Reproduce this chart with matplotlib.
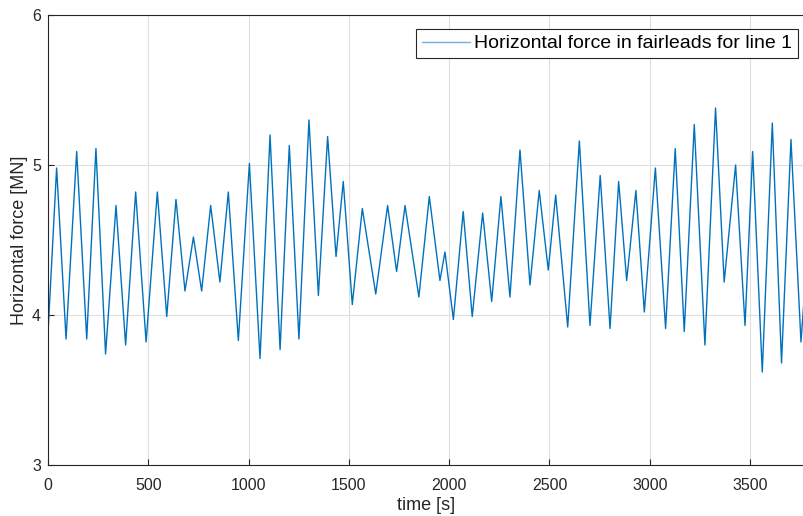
import numpy as np
import matplotlib.pyplot as plt

plt.rcParams['font.family'] = ['Liberation Sans', 'DejaVu Sans']

# peaks / troughs (time [s], force [MN])
time_s = [0, 43, 90, 143, 193, 239, 287, 339, 387, 437, 489, 545, 592, 638,
          683, 725, 766, 811, 857, 899, 949, 1004, 1057, 1107, 1157, 1203,
          1251, 1301, 1348, 1394, 1436, 1472, 1517, 1567, 1634, 1693, 1738,
          1780, 1849, 1901, 1954, 1979, 2021, 2070, 2115, 2167, 2212, 2258,
          2303, 2353, 2403, 2449, 2494, 2531, 2591, 2649, 2702, 2753, 2802,
          2845, 2885, 2931, 2973, 3028, 3079, 3127, 3172, 3222, 3275, 3328,
          3371, 3428, 3475, 3513, 3561, 3611, 3657, 3704, 3754, 3769]
force_mn = [3.88, 4.98, 3.84, 5.09, 3.84, 5.11, 3.74, 4.73, 3.80, 4.82, 3.82,
            4.82, 3.99, 4.77, 4.16, 4.52, 4.16, 4.73, 4.22, 4.82, 3.83, 5.01,
            3.71, 5.20, 3.77, 5.13, 3.84, 5.30, 4.13, 5.19, 4.39, 4.89, 4.07,
            4.71, 4.14, 4.73, 4.29, 4.73, 4.12, 4.79, 4.23, 4.42, 3.97, 4.69,
            3.99, 4.68, 4.09, 4.79, 4.12, 5.10, 4.20, 4.83, 4.30, 4.80, 3.92,
            5.16, 3.93, 4.93, 3.91, 4.89, 4.23, 4.83, 4.02, 4.98, 3.91, 5.11,
            3.89, 5.27, 3.80, 5.38, 4.22, 5.00, 3.93, 5.09, 3.62, 5.28, 3.68,
            5.17, 3.82, 4.10]

x_ticks = [0, 500, 1000, 1500, 2000, 2500, 3000, 3500]
y_ticks = [3, 4, 5, 6]

fig = plt.figure(figsize=(8.04, 5.16), dpi=100)
ax = fig.add_axes([48 / 804, 1 - 465 / 516, 1 - 48 / 804, (465 - 15) / 516])

ax.plot(time_s, force_mn, color='#0072BD', lw=1.0,
        label='Horizontal force in fairleads for line 1')

ax.set_xlim(0, 3769)
ax.set_ylim(3, 6)
ax.set_xticks(x_ticks)
ax.set_yticks(y_ticks)
ax.grid(True, color='#dedede', lw=0.8)
ax.set_axisbelow(True)
ax.tick_params(direction='in', length=4, labelsize=11.5, colors='#262626')
ax.tick_params(axis='x', pad=9)
ax.tick_params(axis='y', pad=5)
for s in ax.spines.values():
    s.set_color('#262626')
    s.set_linewidth(0.8)

ax.set_xlabel('time [s]', fontsize=13, color='#262626', labelpad=3)
ax.set_ylabel('Horizontal force [MN]', fontsize=13, color='#262626', labelpad=3)

leg = ax.legend(loc='upper right', bbox_to_anchor=(0.992, 0.969),
                borderaxespad=0, fontsize=14, handlelength=2.5,
                fancybox=False, framealpha=1, handletextpad=0.2,
                borderpad=0.3)
leg.get_frame().set_edgecolor('#262626')
leg.get_frame().set_linewidth(0.8)
leg.get_lines()[0].set_color('#6fb0dc')

fig.savefig('out.png', dpi=100)
